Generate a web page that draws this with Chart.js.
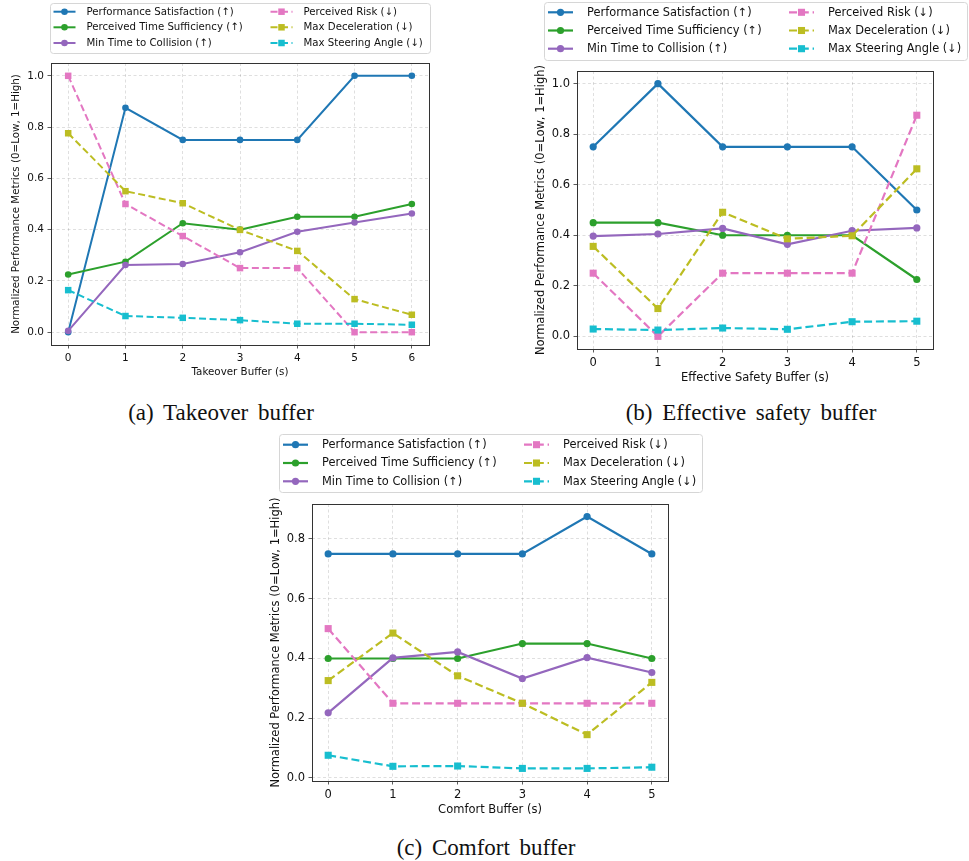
<!DOCTYPE html>
<html>
<head>
<meta charset="utf-8">
<script src="https://cdn.jsdelivr.net/npm/chart.js@4.4.0/dist/chart.umd.min.js"></script>
<style>
  html, body { margin: 0; padding: 0; background: #fff; }
  body { width: 969px; height: 861px; position: relative; overflow: hidden; }
  canvas { position: absolute; }
  .cap { position: absolute; font-family: "Liberation Serif", "Times New Roman", serif; font-size: 23px;
         line-height: 23px; color: #111; text-align: center; white-space: nowrap; word-spacing: 4px; }
</style>
</head>
<body>
<canvas id="chartTakeover"></canvas>
<canvas id="chartSafety"></canvas>
<canvas id="chartComfort"></canvas>
<div class="cap" style="left:71px;top:401px;width:300px;">(a) Takeover buffer</div>
<div class="cap" style="left:600px;top:401px;width:302px;">(b) Effective safety buffer</div>
<div class="cap" style="left:336px;top:836px;width:300px;">(c) Comfort buffer</div>
<script>
// Metric names shown in every legend
const metricNames = [
  'Performance Satisfaction (↑)',
  'Perceived Time Sufficiency (↑)',
  'Min Time to Collision (↑)',
  'Perceived Risk (↓)',
  'Max Deceleration (↓)',
  'Max Steering Angle (↓)'
];

// (a) Takeover buffer
const takeoverBuffer   = [0, 1, 2, 3, 4, 5, 6];
const takeoverPerfSat  = [0.0, 0.875, 0.75, 0.75, 0.75, 1.0, 1.0];
const takeoverTimeSuff = [0.225, 0.275, 0.425, 0.40, 0.45, 0.45, 0.50];
const takeoverMinTTC   = [0.005, 0.262, 0.266, 0.312, 0.392, 0.428, 0.463];
const takeoverRisk     = [1.0, 0.5, 0.375, 0.25, 0.25, 0.0, 0.0];
const takeoverDecel    = [0.776, 0.550, 0.503, 0.399, 0.317, 0.129, 0.068];
const takeoverSteer    = [0.164, 0.063, 0.056, 0.047, 0.033, 0.033, 0.029];

// (b) Effective safety buffer
const safetyBuffer   = [0, 1, 2, 3, 4, 5];
const safetyPerfSat  = [0.75, 1.0, 0.75, 0.75, 0.75, 0.5];
const safetyTimeSuff = [0.45, 0.45, 0.40, 0.40, 0.40, 0.225];
const safetyMinTTC   = [0.397, 0.405, 0.427, 0.364, 0.418, 0.429];
const safetyRisk     = [0.25, 0.0, 0.25, 0.25, 0.25, 0.875];
const safetyDecel    = [0.356, 0.110, 0.491, 0.386, 0.398, 0.663];
const safetySteer    = [0.029, 0.025, 0.033, 0.028, 0.058, 0.060];

// (c) Comfort buffer
const comfortBuffer   = [0, 1, 2, 3, 4, 5];
const comfortPerfSat  = [0.75, 0.75, 0.75, 0.75, 0.875, 0.75];
const comfortTimeSuff = [0.40, 0.40, 0.40, 0.45, 0.45, 0.40];
const comfortMinTTC   = [0.218, 0.402, 0.422, 0.333, 0.403, 0.353];
const comfortRisk     = [0.5, 0.25, 0.25, 0.25, 0.25, 0.25];
const comfortDecel    = [0.326, 0.485, 0.342, 0.250, 0.145, 0.320];
const comfortSteer    = [0.076, 0.039, 0.040, 0.032, 0.032, 0.036];

// Tick labels
const yTicksFull    = [0.0, 0.2, 0.4, 0.6, 0.8, 1.0];
const yTicksComfort = [0.0, 0.2, 0.4, 0.6, 0.8];

const yTitle = 'Normalized Performance Metrics (0=Low, 1=High)';

// Series styling
const seriesColors  = ['#1f77b4', '#2ca02c', '#9467bd', '#e377c2', '#bcbd22', '#17becf'];
const seriesDashed  = [false, false, false, true, true, true];
const seriesMarkers = ['circle', 'circle', 'circle', 'rect', 'rect', 'rect'];

const FONT = '"DejaVu Sans", sans-serif';
const TEXT = '#111';

// 5% auto-margin around a range
function padRange(lo, hi) { const m = (hi - lo) * 0.05; return [lo - m, hi + m]; }

function drawMarker(ctx, style, x, y, r, color) {
  ctx.fillStyle = color;
  ctx.beginPath();
  if (style === 'circle') {
    ctx.arc(x, y, r, 0, Math.PI * 2);
  } else {
    const h = r * Math.SQRT1_2;
    ctx.rect(x - h, y - h, 2 * h, 2 * h);
  }
  ctx.fill();
}

// Axes frame on all four sides plus a two-column legend box
const frameAndLegend = {
  id: 'frameAndLegend',
  afterDatasetsDraw(chart) {
    const { ctx, chartArea: a } = chart;
    ctx.save();
    ctx.strokeStyle = '#333';
    ctx.lineWidth = 1;
    ctx.strokeRect(Math.round(a.left) + 0.5, Math.round(a.top) + 0.5,
                   Math.round(a.right - a.left), Math.round(a.bottom - a.top));
    ctx.restore();
  },
  afterDraw(chart, args, L) {
    const ctx = chart.ctx;
    ctx.save();
    ctx.beginPath();
    ctx.roundRect(L.x + 0.5, L.y + 0.5, L.w, L.h, 3);
    ctx.fillStyle = 'rgba(255,255,255,0.8)';
    ctx.fill();
    ctx.strokeStyle = '#d6d6d6';
    ctx.lineWidth = 1;
    ctx.stroke();
    chart.data.datasets.forEach((ds, i) => {
      const col = Math.floor(i / 3), row = i % 3;
      const x0 = L.x + L.pad + col * L.colGap;
      const y = L.y + L.rows[row];
      ctx.strokeStyle = ds.borderColor;
      ctx.lineWidth = ds.borderWidth;
      ctx.setLineDash(ds.borderDash || []);
      ctx.beginPath();
      ctx.moveTo(x0, y);
      ctx.lineTo(x0 + L.handle, y);
      ctx.stroke();
      ctx.setLineDash([]);
      drawMarker(ctx, ds.pointStyle, x0 + L.handle / 2, y, ds.pointRadius, ds.borderColor);
      ctx.fillStyle = TEXT;
      ctx.font = L.font + 'px ' + FONT;
      ctx.textBaseline = 'middle';
      ctx.textAlign = 'left';
      ctx.fillText(ds.label, x0 + L.textOff, y + 0.5);
    });
    ctx.restore();
  }
};

function buildChart(spec) {
  const el = document.getElementById(spec.id);
  const c = spec.canvas, a = spec.area;
  el.width = c.w; el.height = c.h;
  el.style.left = c.x + 'px'; el.style.top = c.y + 'px';
  el.style.width = c.w + 'px'; el.style.height = c.h + 'px';

  const padTop = a.t - c.y, padRight = c.x + c.w - a.r;
  const yW = a.l - c.x, xH = c.y + c.h - a.b;

  const all = spec.series.flat();
  const [yMin, yMax] = padRange(Math.min(...all), Math.max(...all));
  const [xMin, xMax] = padRange(Math.min(...spec.xs), Math.max(...spec.xs));

  const datasets = spec.series.map((vals, i) => ({
    label: metricNames[i],
    data: spec.xs.map((x, j) => ({ x: x, y: vals[j] })),
    borderColor: seriesColors[i],
    backgroundColor: seriesColors[i],
    borderWidth: spec.lw,
    borderDash: seriesDashed[i] ? spec.dash : [],
    pointStyle: seriesMarkers[i],
    pointRadius: seriesMarkers[i] === 'rect' ? spec.sq : spec.dot,
    pointHoverRadius: seriesMarkers[i] === 'rect' ? spec.sq : spec.dot,
    pointBorderWidth: 0,
    pointBackgroundColor: seriesColors[i],
    tension: 0,
    fill: false,
    order: 10 - i
  }));

  const titleLH = spec.titleFont * 1.2;
  const grid = { color: 'rgba(0,0,0,0.16)', lineWidth: 0.8, tickColor: '#333', tickLength: 3.5, tickWidth: 0.8 };

  return new Chart(el, {
    type: 'line',
    data: { datasets },
    options: {
      responsive: false,
      animation: false,
      events: [],
      layout: { padding: { top: padTop, right: padRight, left: 0, bottom: 0 } },
      plugins: { legend: { display: false }, tooltip: { enabled: false },
                 frameAndLegend: spec.legend },
      scales: {
        x: {
          type: 'linear', min: xMin, max: xMax,
          afterBuildTicks: s => { s.ticks = spec.xs.map(v => ({ value: v })); },
          afterFit: s => { s.height = xH; },
          ticks: { font: { family: FONT, size: spec.tickFont }, color: TEXT, padding: 3.5,
                   maxRotation: 0, autoSkip: false, callback: v => String(v) },
          grid: grid,
          border: { display: false, dash: [3, 2.5] },
          title: { display: true, text: spec.xTitle, color: TEXT,
                   font: { family: FONT, size: spec.titleFont },
                   padding: { top: 0, bottom: (c.y + c.h) - spec.xTitleY - titleLH / 2 } }
        },
        y: {
          type: 'linear', min: yMin, max: yMax,
          afterBuildTicks: s => { s.ticks = spec.yTicks.map(v => ({ value: v })); },
          afterFit: s => { s.width = yW; },
          ticks: { font: { family: FONT, size: spec.tickFont }, color: TEXT, padding: 3.5,
                   callback: v => Number(v).toFixed(1) },
          grid: grid,
          border: { display: false, dash: [3, 2.5] },
          title: { display: true, text: yTitle, color: TEXT,
                   font: { family: FONT, size: spec.titleFont },
                   padding: { top: (spec.yTitleX - c.x) - titleLH / 2, bottom: 0 } }
        }
      }
    },
    plugins: [frameAndLegend]
  });
}

buildChart({
  id: 'chartTakeover',
  canvas: { x: 0, y: 0, w: 440, h: 392 },
  area: { l: 51, t: 63, r: 429, b: 345 },
  xs: takeoverBuffer,
  series: [takeoverPerfSat, takeoverTimeSuff, takeoverMinTTC, takeoverRisk, takeoverDecel, takeoverSteer],
  yTicks: yTicksFull,
  xTitle: 'Takeover Buffer (s)',
  xTitleY: 372, yTitleX: 16,
  tickFont: 10.5, titleFont: 10.3,
  lw: 2, dash: [7, 3.5], dot: 3.3, sq: 4.6,
  legend: { x: 50, y: 3, w: 380, h: 50, pad: 3.5, colGap: 217, handle: 22, textOff: 33,
            rows: [8.7, 24.3, 40], font: 10.2 }
});

buildChart({
  id: 'chartSafety',
  canvas: { x: 520, y: 0, w: 449, h: 392 },
  area: { l: 577, t: 71, r: 933, b: 349 },
  xs: safetyBuffer,
  series: [safetyPerfSat, safetyTimeSuff, safetyMinTTC, safetyRisk, safetyDecel, safetySteer],
  yTicks: yTicksFull,
  xTitle: 'Effective Safety Buffer (s)',
  xTitleY: 378, yTitleX: 541,
  tickFont: 11.5, titleFont: 11.5,
  lw: 2.2, dash: [8, 3.8], dot: 3.6, sq: 5,
  legend: { x: 24, y: 2, w: 423, h: 58, pad: 4, colGap: 241, handle: 25, textOff: 39,
            rows: [10.3, 28.5, 46.7], font: 11.4 }
});

buildChart({
  id: 'chartComfort',
  canvas: { x: 260, y: 430, w: 450, h: 395 },
  area: { l: 312, t: 504, r: 668, b: 781 },
  xs: comfortBuffer,
  series: [comfortPerfSat, comfortTimeSuff, comfortMinTTC, comfortRisk, comfortDecel, comfortSteer],
  yTicks: yTicksComfort,
  xTitle: 'Comfort Buffer (s)',
  xTitleY: 810, yTitleX: 276,
  tickFont: 11.5, titleFont: 11.5,
  lw: 2.2, dash: [8, 3.8], dot: 3.6, sq: 5,
  legend: { x: 19, y: 4, w: 423, h: 58, pad: 4, colGap: 241, handle: 25, textOff: 39,
            rows: [10.7, 29, 47.3], font: 11.4 }
});
</script>
</body>
</html>
